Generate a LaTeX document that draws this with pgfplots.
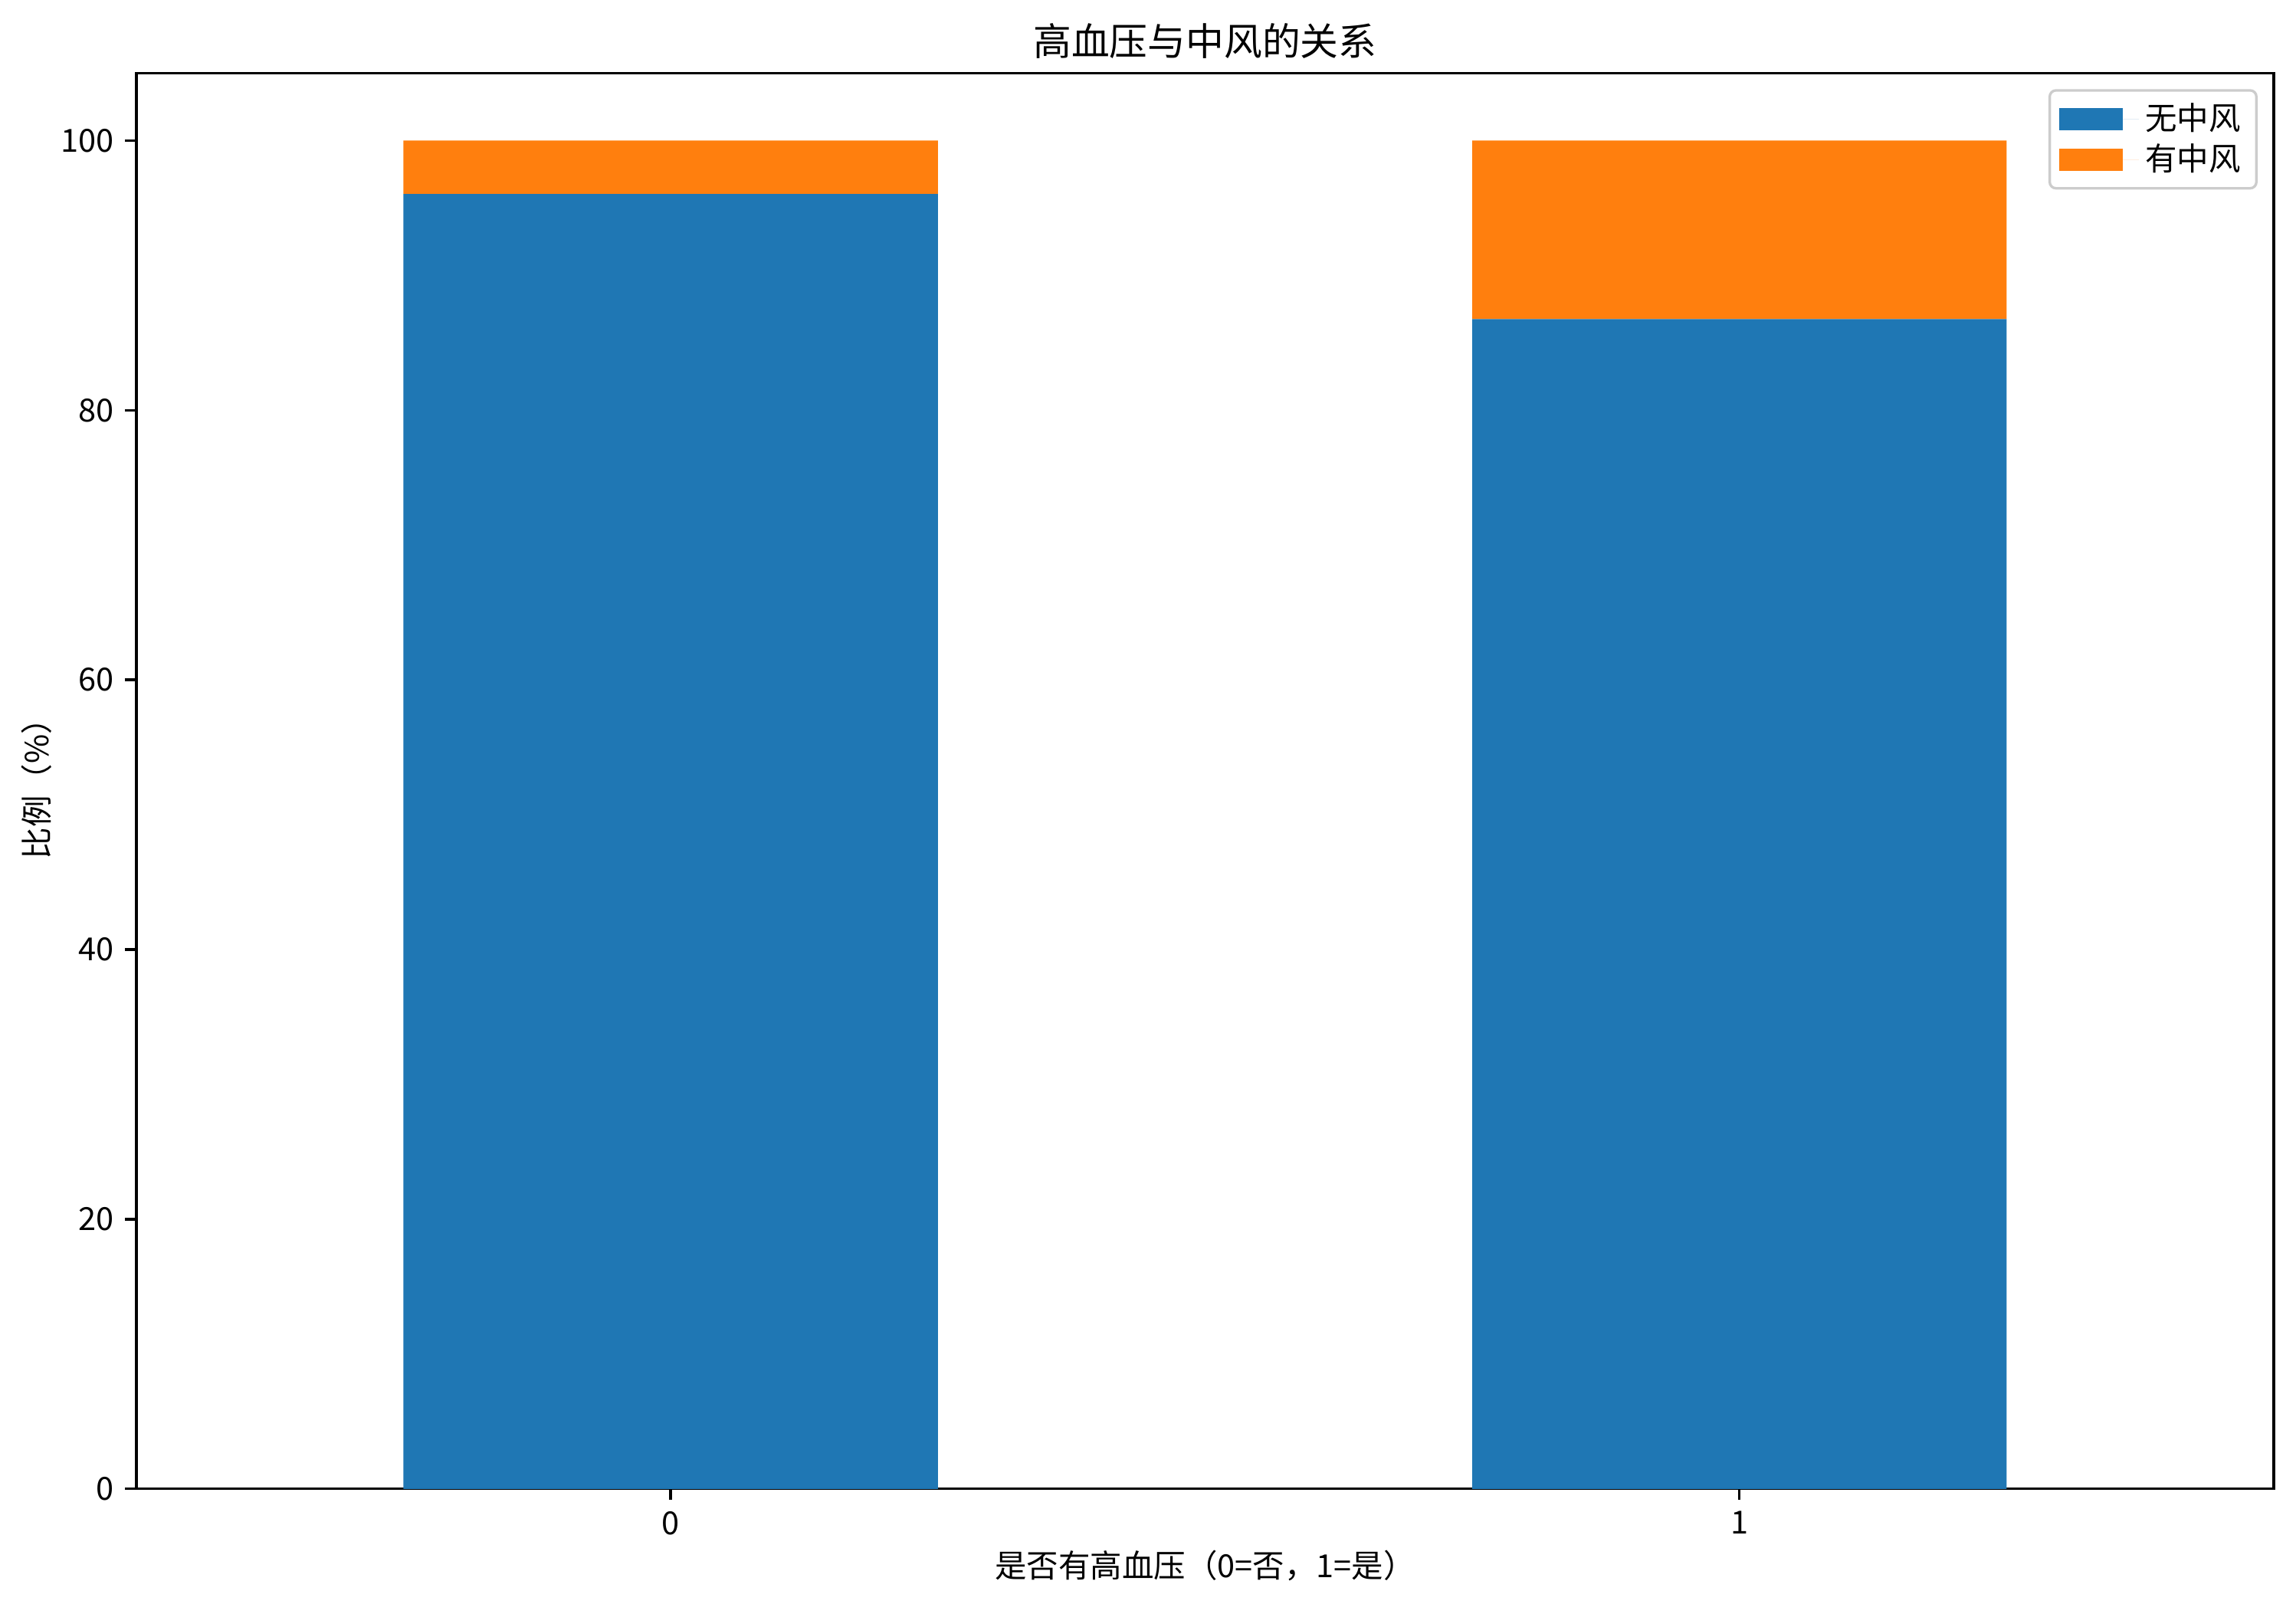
\documentclass[border=0pt]{standalone}
\usepackage{fontspec}
\setmainfont{Noto Sans CJK SC}
\usepackage{pgfplots}
\pgfplotsset{compat=1.18}

\definecolor{tabblue}{HTML}{1F77B4}
\definecolor{taborange}{HTML}{FF7F0E}

\begin{document}
\begin{tikzpicture}
  \begin{axis}[
      name=ax,
      scale only axis,
      width=9.3in, height=6.16in,
      ybar stacked,
      bar width=0.5,
      xmin=-0.5, xmax=1.5,
      ymin=0, ymax=105,
      xtick={0,1},
      ytick={0,20,40,60,80,100},
      tick pos=left,
      tick align=outside,
      major tick length=3.5pt,
      every tick/.style={black, line width=0.8pt},
      axis line style={line width=0.8pt},
      /pgf/number format/assume math mode=true,
      tick label style={font=\fontsize{10}{12}\selectfont},
      label style={font=\fontsize{10}{12}\selectfont},
      title style={font=\fontsize{12}{14}\selectfont, yshift=-5pt},
      title={高血压与中风的关系},
      xlabel={是否有高血压（0=否，1=是）},
      xlabel style={yshift=2pt},
      ylabel={比例（\%）},
      ylabel style={yshift=-4pt},
      legend style={at={(0.9925,0.9887)}, anchor=north east,
        draw=black!20, rounded corners=2pt, line width=0.8pt,
        font=\fontsize{10}{12}\selectfont,
        row sep=-1pt, inner xsep=3pt, inner ysep=2pt},
      legend cell align=left,
      legend image code/.code={
        \fill[#1, sharp corners] (0pt,-3.5pt) rectangle (20pt,3.5pt);
        \path (0pt,0pt) -- (25pt,0pt);},
    ]
    \addplot[fill=tabblue, draw=none] coordinates {(0,96.03) (1,86.75)};
    \addplot[fill=taborange, draw=none] coordinates {(0,3.97) (1,13.25)};
    \legend{无中风, 有中风}
    \coordinate (sw) at (rel axis cs:0,0);
    \coordinate (ne) at (rel axis cs:1,1);
  \end{axis}
  \pgfresetboundingbox
  \path ([xshift=-0.593in, yshift=-0.5in]sw) rectangle ([xshift=0.097in, yshift=0.318in]ne);
\end{tikzpicture}
\end{document}
